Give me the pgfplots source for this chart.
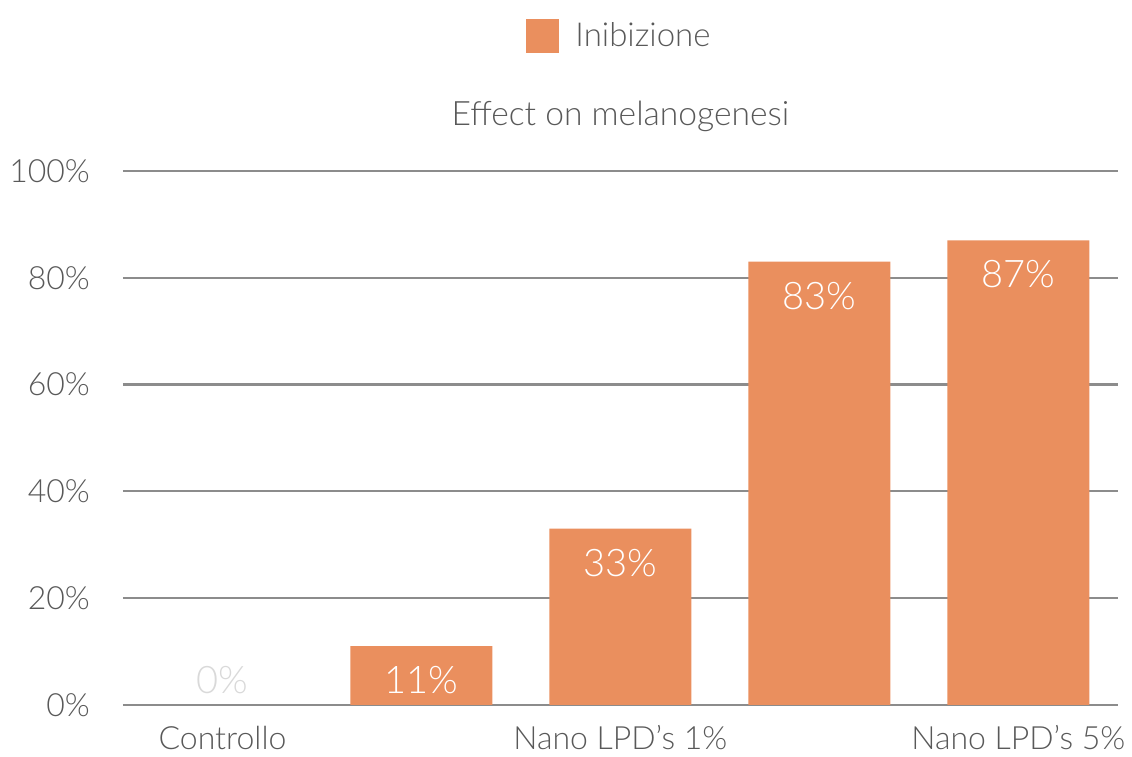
\documentclass[border=0pt]{standalone}
\usepackage{fontspec}
\setmainfont{Lato Light}
\usepackage{pgfplots}
\pgfplotsset{compat=1.18}
\definecolor{barc}{HTML}{EA8F5E}
\definecolor{txt}{HTML}{595959}
\definecolor{gridc}{HTML}{8C8C8C}
\begin{document}
\begin{tikzpicture}
\begin{axis}[
  scale only axis, width=497.5pt, height=267pt,
  xmin=-0.5, xmax=4.5, ymin=0, ymax=100,
  ybar, bar width=71pt, bar shift=0pt,
  xtick={0,1,2,3,4},
  xticklabels={Controllo,,Nano LPD’s 1\%,,Nano LPD’s 5\%},
  ytick={0,20,40,60,80,100},
  yticklabel={\pgfmathprintnumber{\tick}\%},
  /pgf/number format/assume math mode=true,
  major tick length=0pt,
  axis line style={draw=none},
  ymajorgrids, grid style={gridc, line width=1.1pt},
  tick label style={font=\fontsize{16}{19}\selectfont, text=txt},
  yticklabel style={xshift=-13pt},
  xticklabel style={anchor=center, yshift=-16.5pt},
  title={Effect on melanogenesi},
  title style={font=\fontsize{16.8}{19}\selectfont, text=txt, at={(0.5,1)}, anchor=center, yshift=21.5pt},
  legend style={at={(0.5,1)}, anchor=center, yshift=67.5pt, draw=none, fill=none,
    font=\fontsize{16.5}{19}\selectfont, text=txt, column sep=6pt},
  nodes near coords={\pgfmathprintnumber{\pgfplotspointmeta}\%},
  nodes near coords style={font=\fontsize{19}{22}\selectfont, text=white, anchor=center, yshift=-17pt},
]
\addplot[fill=barc, draw=none,
  legend image code/.code={\fill[barc] (0pt,-8.5pt) rectangle (16.5pt,8.5pt);}]
  coordinates {(1,11) (2,33) (3,83) (4,87)};
\addlegendentry{Inibizione}
\addplot[fill=none, draw=none, forget plot,
  nodes near coords style={text=gray!30, anchor=center, yshift=29.5pt}]
  coordinates {(0,0)};
\end{axis}
\path ([xshift=-61.5pt,yshift=-24.5pt]current axis.south west) rectangle ([xshift=7pt,yshift=85.5pt]current axis.north east);
\end{tikzpicture}
\end{document}
